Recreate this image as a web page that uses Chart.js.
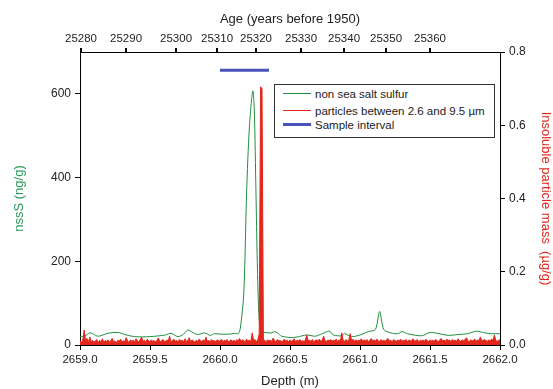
<!DOCTYPE html>
<html>
<head>
<meta charset="utf-8">
<script src="https://cdn.jsdelivr.net/npm/chart.js@4.4.0/dist/chart.umd.min.js"></script>
<style>
  body { margin: 0; background: #fff; }
  #wrap { position: relative; width: 553px; height: 389px; }
  #legend {
    position: absolute; left: 274px; top: 84px; width: 219px; height: 52px;
    border: 1px solid #333; background: #fff;
    font: 11.5px "Liberation Sans", Arial, sans-serif; color: #222;
  }
  #legend div { position: absolute; left: 0; height: 14px; line-height: 14px; white-space: nowrap; }
  #legend span.ln { position: absolute; left: 8px; width: 28px; }
  #legend span.tx { position: absolute; left: 40px; }
</style>
</head>
<body>
<div id="wrap">
  <canvas id="chart" width="553" height="389"></canvas>
  <div id="legend"></div>
</div>
<script>
// nssS (ng/g): [depth, value]
const sulfurDepth = [2659.00, 2659.035, 2659.07, 2659.09, 2659.13, 2659.20, 2659.27, 2659.32, 2659.39, 2659.50,
  2659.61, 2659.65, 2659.70, 2659.74, 2659.77, 2659.80, 2659.84, 2659.89, 2659.93, 2659.96,
  2660.00, 2660.07, 2660.11, 2660.13, 2660.145, 2660.17, 2660.19, 2660.21, 2660.234, 2660.245,
  2660.257, 2660.266, 2660.28, 2660.297, 2660.31, 2660.37, 2660.39, 2660.41, 2660.44, 2660.50,
  2660.55, 2660.62, 2660.68, 2660.73, 2660.78, 2660.81, 2660.87, 2660.89, 2660.94, 2661.00,
  2661.06, 2661.11, 2661.14, 2661.17, 2661.22, 2661.27, 2661.30, 2661.34, 2661.44, 2661.50,
  2661.55, 2661.63, 2661.70, 2661.77, 2661.83, 2661.89, 2661.94, 2662.00];
const sulfur = [20, 22, 29, 27, 21, 28, 30, 25, 20, 20,
  24, 28, 20, 26, 36, 31, 25, 29, 23, 27,
  26, 26, 28, 27, 40, 124, 363, 521, 607, 561,
  363, 203, 60, 32, 30, 29, 32, 29, 21, 18,
  19, 24, 21, 27, 33, 24, 22, 27, 20, 24,
  32, 37, 80, 37, 29, 27, 32, 27, 22, 30,
  28, 23, 25, 27, 33, 29, 27, 27];

// insoluble particle mass (ug/g), one value every 0.01 m from 2659.00
const particleStart = 2659.0;
const particleStep = 0.01;
const particles = [
  0.012, 0.006, 0.014, 0.041, 0.010, 0.018, 0.007, 0.022, 0.009, 0.013,
  0.008, 0.011, 0.015, 0.006, 0.013, 0.009, 0.017, 0.007, 0.012, 0.010,
  0.014, 0.007, 0.012, 0.018, 0.009, 0.011, 0.006, 0.013, 0.010, 0.016,
  0.008, 0.012, 0.009, 0.020, 0.011, 0.007, 0.014, 0.010, 0.013, 0.009,
  0.017, 0.012, 0.008, 0.015, 0.021, 0.010, 0.013, 0.007, 0.016, 0.011,
  0.009, 0.014, 0.010, 0.012, 0.008, 0.013, 0.019, 0.011, 0.009, 0.015,
  0.012, 0.008, 0.014, 0.010, 0.024, 0.009, 0.012, 0.016, 0.010, 0.013,
  0.008, 0.015, 0.011, 0.013, 0.009, 0.017, 0.010, 0.012, 0.020, 0.009,
  0.014, 0.011, 0.008, 0.013, 0.010, 0.016, 0.012, 0.009, 0.014, 0.011,
  0.021, 0.010, 0.013, 0.008, 0.015, 0.011, 0.012, 0.009, 0.014, 0.012,
  0.010, 0.016, 0.009, 0.013, 0.011, 0.015, 0.008, 0.012, 0.014, 0.010,
  0.013, 0.009, 0.015, 0.011, 0.018, 0.010, 0.014, 0.012, 0.009, 0.016,
  0.011, 0.013, 0.010, 0.033, 0.012, 0.015, 0.009, 0.014, 0.030, 0.705,
  0.700, 0.016, 0.012, 0.009, 0.014, 0.011, 0.013, 0.010, 0.019, 0.012,
  0.009, 0.015, 0.011, 0.013, 0.008, 0.012, 0.016, 0.010, 0.013, 0.009,
  0.014, 0.010, 0.012, 0.017, 0.009, 0.013, 0.011, 0.015, 0.010, 0.012,
  0.009, 0.014, 0.027, 0.011, 0.013, 0.010, 0.015, 0.009, 0.012, 0.014,
  0.011, 0.016, 0.010, 0.013, 0.024, 0.012, 0.009, 0.014, 0.011, 0.015,
  0.010, 0.013, 0.012, 0.016, 0.009, 0.014, 0.011, 0.033, 0.012, 0.010,
  0.015, 0.011, 0.013, 0.031, 0.012, 0.016, 0.010, 0.014, 0.011, 0.013,
  0.012, 0.017, 0.010, 0.014, 0.011, 0.015, 0.009, 0.013, 0.018, 0.011,
  0.014, 0.010, 0.016, 0.012, 0.009, 0.015, 0.011, 0.013, 0.010, 0.014,
  0.018, 0.011, 0.013, 0.009, 0.015, 0.012, 0.010, 0.014, 0.011, 0.016,
  0.010, 0.013, 0.012, 0.015, 0.009, 0.014, 0.011, 0.013, 0.017, 0.010,
  0.012, 0.015, 0.009, 0.013, 0.011, 0.014, 0.010, 0.016, 0.012, 0.009,
  0.014, 0.011, 0.013, 0.010, 0.015, 0.012, 0.009, 0.014, 0.018, 0.011,
  0.013, 0.010, 0.016, 0.012, 0.014, 0.009, 0.015, 0.011, 0.013, 0.010,
  0.017, 0.012, 0.010, 0.014, 0.011, 0.015, 0.020, 0.012, 0.009, 0.014,
  0.011, 0.013, 0.016, 0.010, 0.014, 0.012, 0.022, 0.011, 0.013, 0.015,
  0.012, 0.010, 0.014, 0.011, 0.016, 0.013, 0.027, 0.012, 0.010, 0.013,
  0.014];

// sample interval (depth range), drawn at 0.75 on the right axis
const sampleDepth = [2660.0, 2660.35];
const sampleLevel = 0.75;

// top axis: ages and the depths where they sit
const ageTicks = [25280, 25290, 25300, 25310, 25320, 25330, 25340, 25350, 25360];
const ageTickDepths = [2659.007, 2659.329, 2659.686, 2659.979, 2660.257, 2660.579, 2660.886, 2661.186, 2661.5];

const depthTicks = [2659.0, 2659.5, 2660.0, 2660.5, 2661.0, 2661.5, 2662.0];
const nssTicks = [0, 200, 400, 600];

const GREEN = '#1f8f3f';
const RED = '#e3261b';
const BLUE = '#4852b8';
const FONT = 'Liberation Sans, Arial, sans-serif';

const sulfurPts = sulfurDepth.map((d, i) => ({x: d, y: sulfur[i]}));
const particlePts = particles.map((v, i) => ({x: particleStart + i * particleStep, y: v}));
const samplePts = sampleDepth.map(d => ({x: d, y: sampleLevel}));

const tickFont = {family: FONT, size: 12};
const axisGrid = {display: true, drawOnChartArea: false, tickLength: 5, color: '#000'};

const ctx = document.getElementById('chart');
const chart = new Chart(ctx, {
  type: 'line',
  data: {
    datasets: [
      {label: 'non sea salt sulfur', data: sulfurPts, yAxisID: 'y', xAxisID: 'x',
       borderColor: GREEN, borderWidth: 1, pointRadius: 0, tension: 0.3, order: 2},
      {label: 'particles between 2.6 and 9.5 µm', data: particlePts, yAxisID: 'y2', xAxisID: 'x',
       borderColor: RED, backgroundColor: RED, borderWidth: 1, pointRadius: 0, fill: 'origin', order: 1},
      {label: 'Sample interval', data: samplePts, yAxisID: 'y2', xAxisID: 'x',
       borderColor: BLUE, borderWidth: 3, pointRadius: 0, order: 0}
    ]
  },
  options: {
    responsive: false,
    animation: false,
    layout: {padding: 0},
    plugins: {legend: {display: false}, tooltip: {enabled: false}},
    scales: {
      x: {
        type: 'linear', position: 'bottom', min: 2659, max: 2662,
        afterBuildTicks: s => { s.ticks = depthTicks.map(v => ({value: v})); },
        afterFit: s => { s.height = 44; },
        ticks: {font: {family: FONT, size: 11.5}, color: '#222', padding: 3, maxRotation: 0, callback: v => v.toFixed(1)},
        grid: axisGrid,
        border: {color: '#000', width: 1},
        title: {display: true, text: 'Depth (m)', color: '#222', font: {family: FONT, size: 13}, padding: {top: 0, bottom: 0}}
      },
      xTop: {
        type: 'linear', position: 'top', min: 2659, max: 2662,
        afterBuildTicks: s => { s.ticks = ageTickDepths.map(v => ({value: v})); },
        afterFit: s => { s.height = 52; },
        ticks: {font: {family: FONT, size: 11.5}, color: '#222', padding: 2, maxRotation: 0,
          callback: (v, i) => ageTicks[i]},
        grid: {display: true, drawOnChartArea: false, tickLength: 4, color: '#000', lineWidth: 2},
        border: {color: '#000', width: 1},
        title: {display: true, text: 'Age (years before 1950)', color: '#222', font: {family: FONT, size: 13}, padding: {top: 12, bottom: 0}}
      },
      y: {
        position: 'left', min: 0, max: 700,
        afterBuildTicks: s => { s.ticks = nssTicks.map(v => ({value: v})); },
        afterFit: s => { s.width = 80; },
        ticks: {font: tickFont, color: '#222', padding: 4},
        grid: axisGrid,
        border: {color: '#000', width: 1},
        title: {display: true, text: 'nssS (ng/g)', color: '#2a9a5a', font: {family: FONT, size: 13}, padding: {top: 12, bottom: 0}}
      },
      y2: {
        position: 'right', min: 0, max: 0.8,
        afterFit: s => { s.width = 53; },
        ticks: {font: tickFont, color: '#222', padding: 4, stepSize: 0.2, callback: v => v.toFixed(1)},
        grid: axisGrid,
        border: {color: '#000', width: 1},
        title: {display: true, text: 'Insoluble particle mass  (µg/g)', color: RED, font: {family: FONT, size: 13}, padding: {top: 0, bottom: 0}}
      }
    }
  }
});

// legend box built from the datasets
const leg = document.getElementById('legend');
const rowTops = [2, 19, 33];
chart.data.datasets.forEach((ds, i) => {
  const row = document.createElement('div');
  row.style.top = rowTops[i] + 'px';
  row.style.width = '100%';
  const ln = document.createElement('span');
  ln.className = 'ln';
  ln.style.top = (7 - Math.ceil(ds.borderWidth / 2)) + 'px';
  ln.style.borderTop = ds.borderWidth + 'px solid ' + ds.borderColor;
  const tx = document.createElement('span');
  tx.className = 'tx';
  tx.textContent = ds.label;
  row.appendChild(ln);
  row.appendChild(tx);
  leg.appendChild(row);
});
</script>
</body>
</html>
